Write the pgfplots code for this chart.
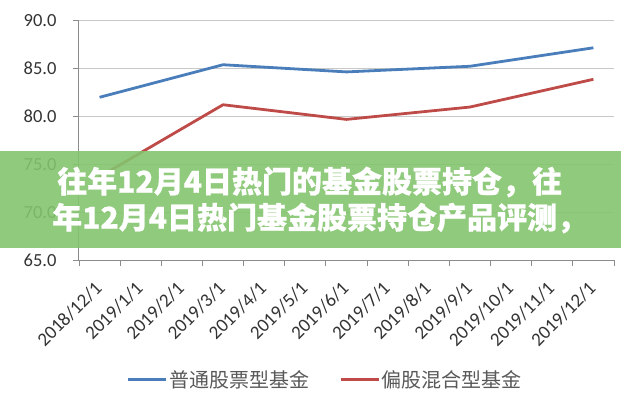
\documentclass[border=0pt]{standalone}
\usepackage{pgfplots}
\pgfplotsset{compat=1.18}
\usepackage{fontspec}
\setmainfont{Carlito}
\newfontfamily\cjk{Noto Sans CJK SC}
\newfontfamily\cjkheavy{Noto Sans CJK SC}[BoldFeatures={FakeBold=0.8}]
\definecolor{bluel}{HTML}{4A7EBB}
\definecolor{redl}{HTML}{BE4B48}
\definecolor{gridc}{HTML}{C8C8C8}
\definecolor{axc}{HTML}{8C8C8C}
\definecolor{txt}{HTML}{333333}
\definecolor{legtxt}{HTML}{595959}
\definecolor{banner}{HTML}{84C46E}
\begin{document}
\begin{tikzpicture}[x=1pt,y=1pt]
\useasboundingbox (-79,-140) rectangle (542,260);
\begin{axis}[
  scale only axis, width=535pt, height=239.3pt,
  xmin=-0.5, xmax=12.5, ymin=65, ymax=90,
  axis lines=left, axis line style={-, draw=axc, line width=1pt},
  ytick={65,70,...,90}, ymajorgrids, grid style={gridc, line width=0.9pt},
  xtick={-0.5,0.5,...,12.5}, xticklabel=\empty,
  extra x ticks={0,1,...,12},
  extra x tick labels={2018/12/1,2019/1/1,2019/2/1,2019/3/1,2019/4/1,2019/5/1,2019/6/1,2019/7/1,2019/8/1,2019/9/1,2019/10/1,2019/11/1,2019/12/1},
  extra x tick style={major tick length=0pt, grid=none,
    xticklabel style={font=\fontsize{19}{19}\selectfont, text=txt, inner sep=0pt, xshift=-1pt, yshift=-25pt, rotate=45, anchor=east}},
  tick align=outside, major tick length=6.3pt,
  tick style={draw=axc, line width=0.9pt},
  yticklabel style={font=\fontsize{18.5}{18.5}\selectfont, text=txt, inner sep=0pt, xshift=-16pt},
  /pgf/number format/.cd, fixed, fixed zerofill, precision=1, assume math mode=true,
  /pgfplots/.cd,
  legend style={at={(axis description cs:0.46,-0.50)}, anchor=center, draw=none, fill=none,
    font=\cjk\fontsize{20}{20}\selectfont, text=legtxt,
    /tikz/every even column/.append style={column sep=28pt}},
  legend columns=2,
  legend image code/.code={\draw[#1] (0pt,0pt) -- (38pt,0pt);},
]
\addplot[bluel, line width=2.8pt, line join=round] coordinates {(0,82.0) (3,85.4) (6,84.65) (9,85.24) (12,87.17)};
\addlegendentry{普通股票型基金}
\addplot[redl, line width=2.8pt, line join=round] coordinates {(0,73.7) (3,81.22) (6,79.69) (9,80.98) (12,83.88)};
\addlegendentry{偏股混合型基金}
\end{axis}
\fill[banner, opacity=0.9] (-79,11.7) rectangle (542,109.3);
\node[anchor=west, inner sep=0pt, text=white, font=\cjkheavy\bfseries\fontsize{30}{30}\selectfont] at (-22,78) {往年12月4日热门的基金股票持仓，往};
\node[anchor=west, inner sep=0pt, text=white, font=\cjkheavy\bfseries\fontsize{30}{30}\selectfont] at (-27,42) {年12月4日热门基金股票持仓产品评测，};
\end{tikzpicture}
\end{document}
